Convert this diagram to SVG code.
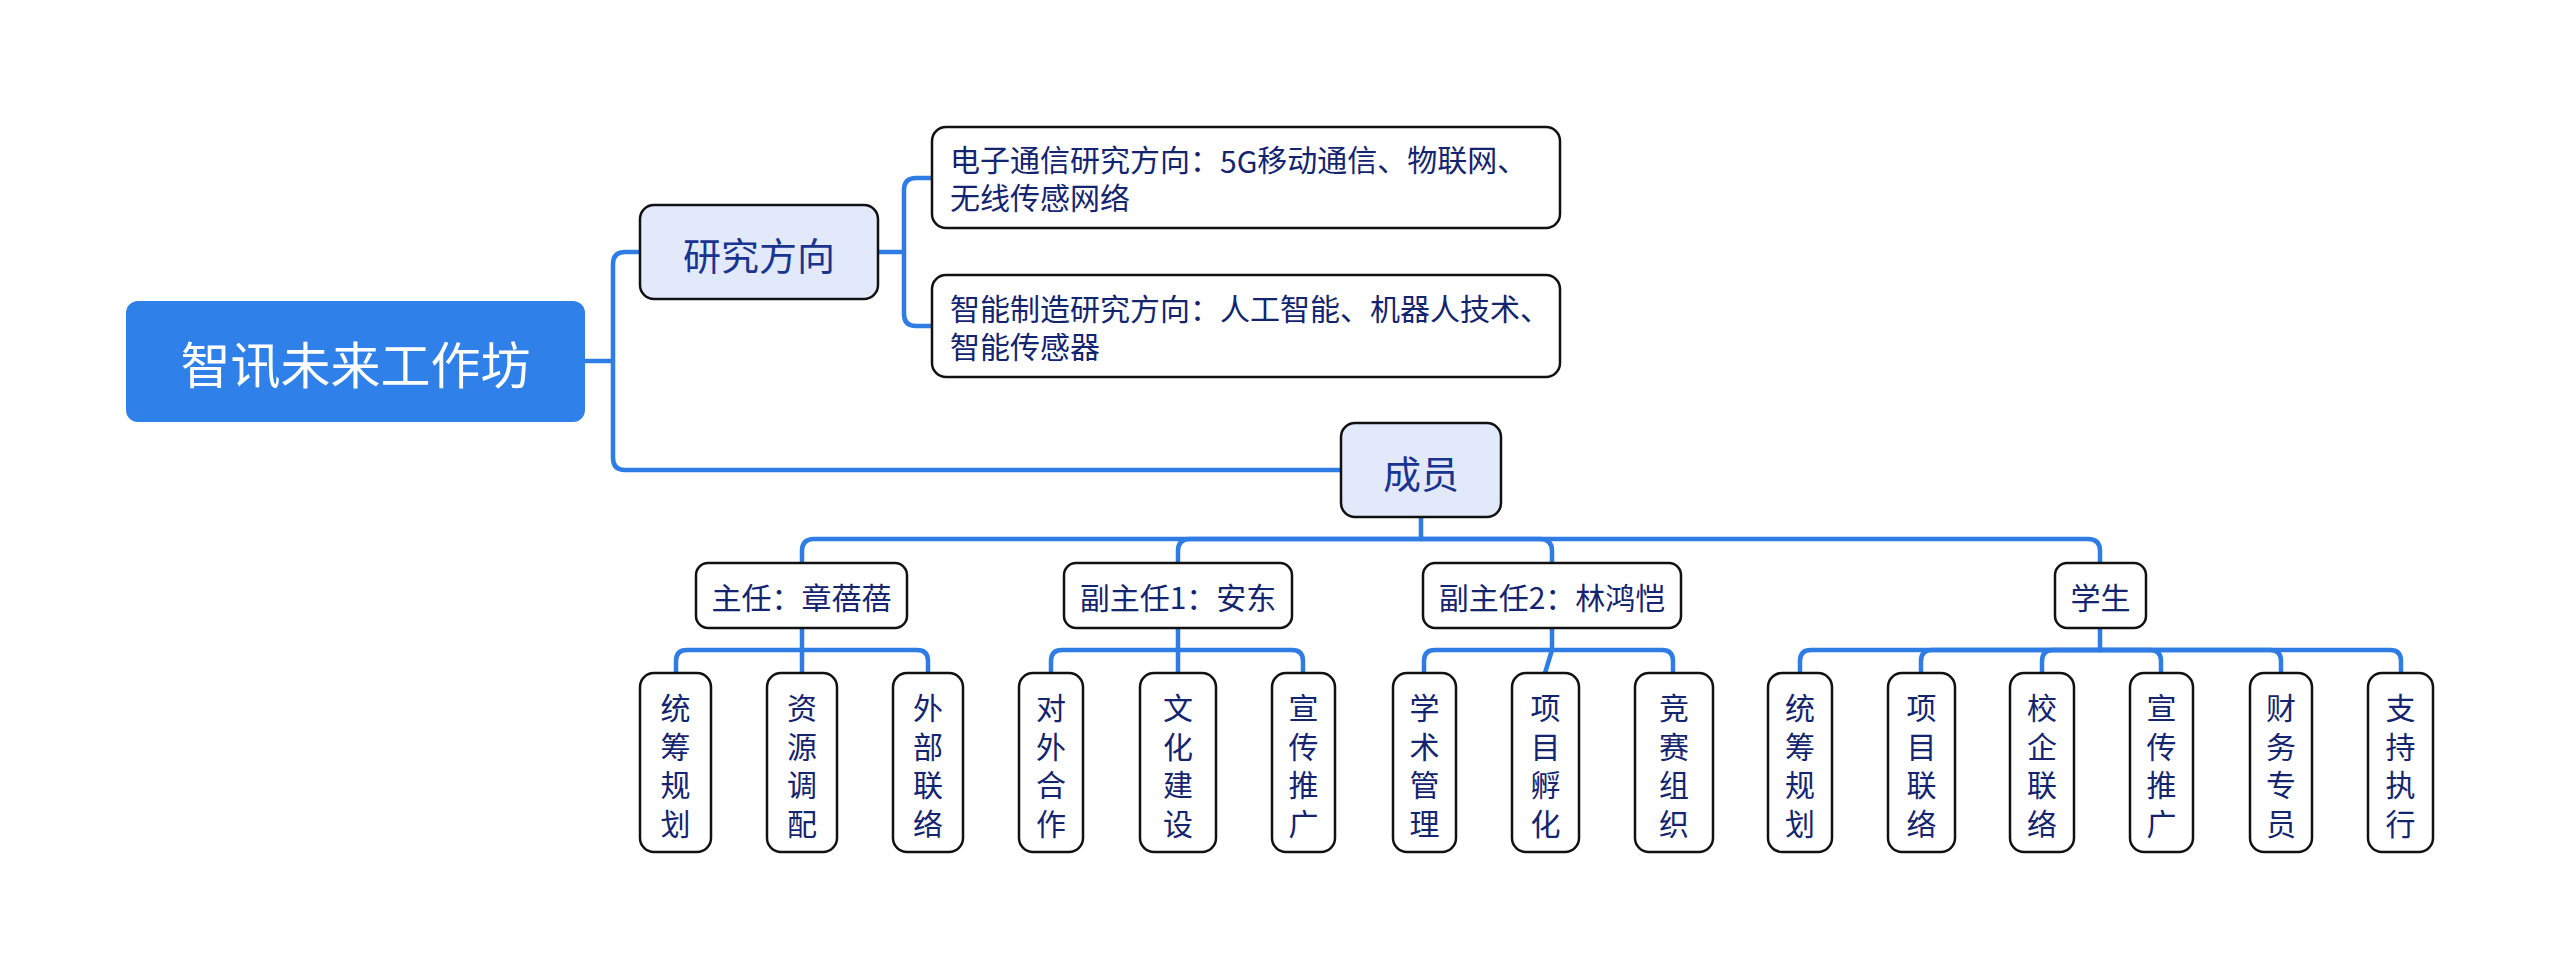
<svg xmlns="http://www.w3.org/2000/svg" width="2560" height="979" viewBox="0 0 2560 979">
<style>
.t{font-family:"Noto Sans CJK SC","Noto Sans",sans-serif;dominant-baseline:central;}
.m{font-family:"Liberation Sans","Noto Sans CJK SC",sans-serif;dominant-baseline:central;}
.c{text-anchor:middle;}
.box{fill:#ffffff;stroke:#111111;stroke-width:2.5;}
.l1{fill:#e2e9fb;stroke:#111111;stroke-width:2.5;}
.root{fill:#2f80e8;}
.tx{fill:#14246f;font-size:30px;}
.tl1{fill:#1a3590;font-size:38px;}
.tr{fill:#ffffff;font-size:50px;}
.conn path{fill:none;stroke:#2e7ce4;stroke-width:4.5;stroke-linecap:round;stroke-linejoin:round;}
</style>
<rect width="2560" height="979" fill="#ffffff"/>
<g class="conn" id="connectors">
<path d="M585,361 H613"/>
<path d="M640,252 H625 Q613,252 613,264 V458 Q613,470 625,470 H1341"/>
<path d="M878,252 H904"/>
<path d="M932,178 H916 Q904,178 904,190 V314 Q904,326 916,326 H932"/>
<path d="M1421,517 V539"/>
<path d="M1421,539 H814 Q802,539 802,551 V563"/>
<path d="M1421,539 H1190 Q1178,539 1178,551 V563"/>
<path d="M1421,539 H1540 Q1552,539 1552,551 V563"/>
<path d="M1421,539 H2088 Q2100,539 2100,551 V563"/>
<path d="M802,628 V673"/>
<path d="M802,650 H687 Q676,650 676,661 V673"/>
<path d="M802,650 H917 Q928,650 928,661 V673"/>
<path d="M1178,628 V673"/>
<path d="M1178,650 H1062 Q1051,650 1051,661 V673"/>
<path d="M1178,650 H1292 Q1303,650 1303,661 V673"/>
<path d="M1552,628 V650 L1545,673"/>
<path d="M1552,650 H1435 Q1424,650 1424,661 V673"/>
<path d="M1552,650 H1662 Q1673,650 1673,661 V673"/>
<path d="M2100,628 V650"/>
<path d="M2100,650 H1811 Q1800,650 1800,661 V673"/>
<path d="M2100,650 H1932 Q1921,650 1921,661 V673"/>
<path d="M2100,650 H2053 Q2042,650 2042,661 V673"/>
<path d="M2100,650 H2150 Q2161,650 2161,661 V673"/>
<path d="M2100,650 H2270 Q2281,650 2281,661 V673"/>
<path d="M2100,650 H2390 Q2401,650 2401,661 V673"/>
</g>
<g id="root"><rect class="root" x="126" y="301" width="459" height="121" rx="12"/><text class="t c tr" x="355.5" y="362">智讯未来工作坊</text></g>
<g id="research"><rect class="l1" x="640" y="205" width="238" height="94" rx="14"/><text class="t c tl1" x="759" y="253">研究方向</text></g>
<g id="research-1"><rect class="box" x="932" y="127" width="628" height="101" rx="14"/><text class="m tx" x="950" y="160">电子通信研究方向：<tspan font-family="Noto Sans CJK SC">5G</tspan>移动通信、物联网、</text><text class="m tx" x="950" y="198">无线传感网络</text></g>
<g id="research-2"><rect class="box" x="932" y="275" width="628" height="102" rx="14"/><text class="m tx" x="950" y="309">智能制造研究方向：人工智能、机器人技术、</text><text class="m tx" x="950" y="347">智能传感器</text></g>
<g id="members"><rect class="l1" x="1341" y="423" width="160" height="94" rx="14"/><text class="t c tl1" x="1421" y="471">成员</text></g>
<g id="director"><rect class="box" x="696" y="563" width="211" height="65" rx="12"/><text class="t c tx" x="801.5" y="596">主任：章蓓蓓</text></g>
<g id="deputy-1"><rect class="box" x="1064" y="563" width="228" height="65" rx="12"/><text class="t c tx" x="1178" y="596">副主任1：安东</text></g>
<g id="deputy-2"><rect class="box" x="1423" y="563" width="258" height="65" rx="12"/><text class="t c tx" x="1552" y="596">副主任2：林鸿恺</text></g>
<g id="students"><rect class="box" x="2055" y="563" width="91" height="65" rx="12"/><text class="t c tx" x="2100.5" y="596">学生</text></g>
<g id="d-1"><rect class="box" x="640" y="673" width="71" height="179" rx="14"/><text class="m c tx" x="675.5"><tspan x="675.5" y="708">统</tspan><tspan x="675.5" y="746.5">筹</tspan><tspan x="675.5" y="785">规</tspan><tspan x="675.5" y="823.5">划</tspan></text></g>
<g id="d-2"><rect class="box" x="767" y="673" width="70" height="179" rx="14"/><text class="m c tx" x="802"><tspan x="802" y="708">资</tspan><tspan x="802" y="746.5">源</tspan><tspan x="802" y="785">调</tspan><tspan x="802" y="823.5">配</tspan></text></g>
<g id="d-3"><rect class="box" x="893" y="673" width="70" height="179" rx="14"/><text class="m c tx" x="928"><tspan x="928" y="708">外</tspan><tspan x="928" y="746.5">部</tspan><tspan x="928" y="785">联</tspan><tspan x="928" y="823.5">络</tspan></text></g>
<g id="v1-1"><rect class="box" x="1019" y="673" width="64" height="179" rx="14"/><text class="m c tx" x="1051"><tspan x="1051" y="708">对</tspan><tspan x="1051" y="746.5">外</tspan><tspan x="1051" y="785">合</tspan><tspan x="1051" y="823.5">作</tspan></text></g>
<g id="v1-2"><rect class="box" x="1140" y="673" width="76" height="179" rx="14"/><text class="m c tx" x="1178"><tspan x="1178" y="708">文</tspan><tspan x="1178" y="746.5">化</tspan><tspan x="1178" y="785">建</tspan><tspan x="1178" y="823.5">设</tspan></text></g>
<g id="v1-3"><rect class="box" x="1272" y="673" width="63" height="179" rx="14"/><text class="m c tx" x="1303.5"><tspan x="1303.5" y="708">宣</tspan><tspan x="1303.5" y="746.5">传</tspan><tspan x="1303.5" y="785">推</tspan><tspan x="1303.5" y="823.5">广</tspan></text></g>
<g id="v2-1"><rect class="box" x="1393" y="673" width="63" height="179" rx="14"/><text class="m c tx" x="1424.5"><tspan x="1424.5" y="708">学</tspan><tspan x="1424.5" y="746.5">术</tspan><tspan x="1424.5" y="785">管</tspan><tspan x="1424.5" y="823.5">理</tspan></text></g>
<g id="v2-2"><rect class="box" x="1512" y="673" width="67" height="179" rx="14"/><text class="m c tx" x="1545.5"><tspan x="1545.5" y="708">项</tspan><tspan x="1545.5" y="746.5">目</tspan><tspan x="1545.5" y="785">孵</tspan><tspan x="1545.5" y="823.5">化</tspan></text></g>
<g id="v2-3"><rect class="box" x="1635" y="673" width="78" height="179" rx="14"/><text class="m c tx" x="1674"><tspan x="1674" y="708">竞</tspan><tspan x="1674" y="746.5">赛</tspan><tspan x="1674" y="785">组</tspan><tspan x="1674" y="823.5">织</tspan></text></g>
<g id="s-1"><rect class="box" x="1768" y="673" width="64" height="179" rx="14"/><text class="m c tx" x="1800"><tspan x="1800" y="708">统</tspan><tspan x="1800" y="746.5">筹</tspan><tspan x="1800" y="785">规</tspan><tspan x="1800" y="823.5">划</tspan></text></g>
<g id="s-2"><rect class="box" x="1888" y="673" width="67" height="179" rx="14"/><text class="m c tx" x="1921.5"><tspan x="1921.5" y="708">项</tspan><tspan x="1921.5" y="746.5">目</tspan><tspan x="1921.5" y="785">联</tspan><tspan x="1921.5" y="823.5">络</tspan></text></g>
<g id="s-3"><rect class="box" x="2010" y="673" width="64" height="179" rx="14"/><text class="m c tx" x="2042"><tspan x="2042" y="708">校</tspan><tspan x="2042" y="746.5">企</tspan><tspan x="2042" y="785">联</tspan><tspan x="2042" y="823.5">络</tspan></text></g>
<g id="s-4"><rect class="box" x="2130" y="673" width="63" height="179" rx="14"/><text class="m c tx" x="2161.5"><tspan x="2161.5" y="708">宣</tspan><tspan x="2161.5" y="746.5">传</tspan><tspan x="2161.5" y="785">推</tspan><tspan x="2161.5" y="823.5">广</tspan></text></g>
<g id="s-5"><rect class="box" x="2250" y="673" width="62" height="179" rx="14"/><text class="m c tx" x="2281"><tspan x="2281" y="708">财</tspan><tspan x="2281" y="746.5">务</tspan><tspan x="2281" y="785">专</tspan><tspan x="2281" y="823.5">员</tspan></text></g>
<g id="s-6"><rect class="box" x="2368" y="673" width="65" height="179" rx="14"/><text class="m c tx" x="2400.5"><tspan x="2400.5" y="708">支</tspan><tspan x="2400.5" y="746.5">持</tspan><tspan x="2400.5" y="785">执</tspan><tspan x="2400.5" y="823.5">行</tspan></text></g>
</svg>
